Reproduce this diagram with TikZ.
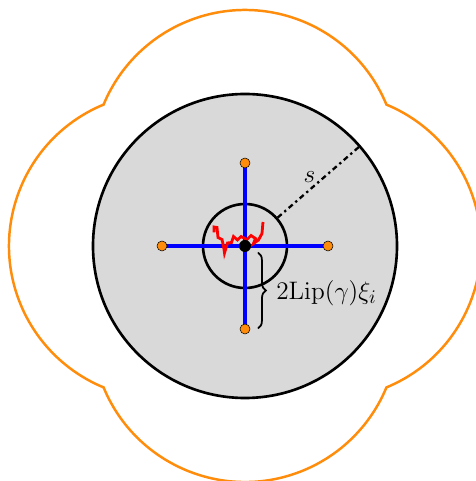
\documentclass[tikz,border=0pt]{standalone}
\usetikzlibrary{decorations.pathreplacing}
\definecolor{myorange}{RGB}{255,140,10}
\definecolor{mygray}{RGB}{217,217,217}
\begin{document}
\begin{tikzpicture}[
  dotbase/.style={circle, inner sep=0pt, minimum size=0.2cm},
  odot/.style={dotbase, fill=myorange, draw=black, line width=0.3pt},
  bdot/.style={dotbase, fill=black, minimum size=0.24cm},
  ring/.style={circle, draw=black, line width=1.5pt, inner sep=0pt},
  arm/.style={draw=blue, line width=2.2pt},
  outline/.style={draw=myorange, line width=1.4pt},
  walk/.style={draw=red, line width=1.6pt},
  radiusline/.style={draw=black, line width=1.3pt, dash dot},
  bracestyle/.style={draw=black, line width=1pt, decorate, decoration={brace, amplitude=4.5pt}},
  labfont/.style={font=\fontsize{15}{18}\selectfont},
]
\useasboundingbox (-4.9,-4.70) rectangle (4.6,4.92);
% orange outline: union of four circles of radius 3.06 centred at the orange dots
\draw[outline] (-2.828,2.828)
  arc[start angle=112.44, end angle=247.56, radius=3.06cm]
  arc[start angle=202.44, end angle=337.56, radius=3.06cm]
  arc[start angle=-67.56, end angle=67.56, radius=3.06cm]
  arc[start angle=22.44, end angle=157.56, radius=3.06cm] -- cycle;
% big disc
\node[ring, fill=mygray, minimum size=6.08cm] (big) at (0,0) {};
% coordinates
\coordinate (O) at (0,0);
\coordinate (cL) at (-1.66,0);
\coordinate (cR) at (1.66,0);
\coordinate (cT) at (0,1.66);
\coordinate (cB) at (0,-1.66);
% small circle
\node[ring, minimum size=1.68cm] (small) at (0,0) {};
% blue arms
\draw[arm] (cL) -- (cR);
\draw[arm] (cT) -- (cB);
% radius s
\draw[radiusline] (small.41) -- (big.41);
\node[labfont] (s) at (1.29,1.37) {$s$};
% red random walk
\draw[walk] (-0.62,0.27) -- (-0.62,0.38) -- (-0.56,0.37) -- (-0.54,0.17) -- (-0.46,0.13)
  -- (-0.43,0.0) -- (-0.41,-0.14) -- (-0.35,0.06) -- (-0.27,0.07) -- (-0.23,0.19)
  -- (-0.15,0.12) -- (-0.08,0.19) -- (0.04,0.13) -- (0.12,0.21) -- (0.21,0.15)
  -- (0.17,0.05) -- (0.27,0.12) -- (0.34,0.25) -- (0.36,0.48);
% brace and label
\coordinate (bt) at (0.26,-0.13);
\coordinate (bb) at (0.26,-1.65);
\draw[bracestyle] (bt) -- (bb);
\node[labfont, anchor=base west, inner sep=0pt] (lab) at (0.62,-1.08) {$2\mathrm{Lip}(\gamma)\xi_i$};
% dots
\node[odot] (L) at (cL) {};
\node[odot] (R) at (cR) {};
\node[odot] (T) at (cT) {};
\node[odot] (B) at (cB) {};
\node[bdot] (C) at (O) {};
\end{tikzpicture}
\end{document}
